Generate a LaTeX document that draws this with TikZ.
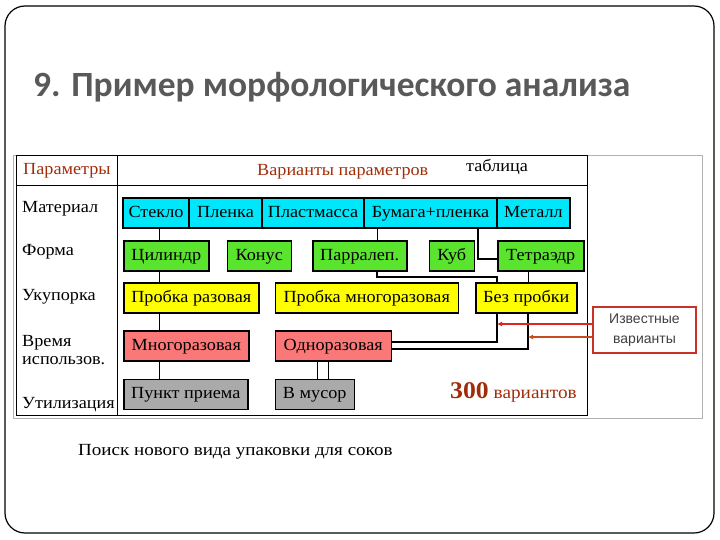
\documentclass[tikz,border=0pt]{standalone}
\usepackage{fontspec}
\setmainfont{Liberation Serif}[FakeStretch=1.07]
\newfontfamily\titlefont{Carlito}
\newfontfamily\notefont{Liberation Sans}
\newfontfamily\captionfont{Liberation Serif}[FakeStretch=1.12]
\usetikzlibrary{arrows.meta,positioning}
\definecolor{matcyan}{RGB}{0,230,250}
\definecolor{formgreen}{RGB}{90,228,45}
\definecolor{closyellow}{RGB}{255,255,0}
\definecolor{usesalmon}{RGB}{250,120,120}
\definecolor{utilgray}{RGB}{170,170,170}
\definecolor{headred}{RGB}{160,45,10}
\definecolor{titlegray}{RGB}{89,89,89}
\definecolor{notered}{RGB}{200,50,40}
\definecolor{arrowred}{RGB}{225,35,35}
\definecolor{arrowbrown}{RGB}{200,75,30}
\tikzset{
block/.style={rectangle, draw, line width=1.5pt, minimum height=30pt, inner sep=1pt, text height=12pt, text depth=3.5pt, font=\fontsize{17}{19}\selectfont},
mat/.style={block, fill=matcyan, line width=1.2pt, outer sep=0pt},
form/.style={block, fill=formgreen},
closure/.style={block, fill=closyellow},
usage/.style={block, fill=usesalmon},
util/.style={block, fill=utilgray},
rowname/.style={anchor=base west, inner sep=0pt, font=\fontsize{17}{19}\selectfont},
head/.style={rowname, text=headred},
line/.style={draw, line width=1pt},
known/.style={draw, line width=1.8pt},
hint/.style={draw, line width=1.6pt, -{Latex[length=5pt, width=5pt]}}
}

\begin{document}
\begin{tikzpicture}[x=1pt, y=-1pt]
    \useasboundingbox (0,0) rectangle (720,540);
    % Slide frame and title
    \draw[line width=1.2pt, rounded corners=20pt] (5,6) rectangle (714,533);
    \node[anchor=base west, inner sep=0pt, text=titlegray, font=\titlefont\bfseries\fontsize{35.5}{40}\selectfont] (title) at (33,97) {9. Пример морфологического анализа};
    % Table frame
    \draw[gray!60, line width=0.8pt] (13,155) rectangle (702,418);
    \draw[line width=1pt] (16,156) rectangle (587,415);
    \draw[line width=1pt] (16,186) -- (587,186);
    \draw[line width=1pt] (117,156) -- (117,415);
    % Header and row names
    \node[head] (hparam) at (23,175) {Параметры};
    \node[head] (hvar) at (257,176) {Варианты параметров};
    \node[rowname] (htab) at (466,172) {таблица};
    \node[rowname] (rmat) at (22,213) {Материал};
    \node[rowname] (rform) at (22,255) {Форма};
    \node[rowname] (rclos) at (22,300) {Укупорка};
    \node[rowname] (rtime) at (22,346) {Время};
    \node[rowname] (rtime2) at (22,364) {использов.};
    \node[rowname] (rutil) at (22,408) {Утилизация};
    % Place nodes
    \node[mat, minimum width=66pt, anchor=west] (steklo) at (123,213) {Стекло};
    \node[mat, minimum width=73pt, right=0pt of steklo] (plenka) {Пленка};
    \node[mat, minimum width=102pt, right=0pt of plenka] (plast) {Пластмасса};
    \node[mat, minimum width=133pt, right=0pt of plast] (bumaga) {Бумага+пленка};
    \node[mat, minimum width=73pt, right=0pt of bumaga] (metall) {Металл};
    \node[form, minimum width=85pt, anchor=west] (cilindr) at (123,256) {Цилиндр};
    \node[form, minimum width=64pt, right=17pt of cilindr] (konus) {Конус};
    \node[form, minimum width=94pt, right=20pt of konus] (parall) {Парралеп.};
    \node[form, minimum width=45pt, right=21pt of parall] (kub) {Куб};
    \node[form, minimum width=86pt, right=22pt of kub] (tetra) {Тетраэдр};
    \node[closure, minimum width=135pt, anchor=west] (prob1) at (123,298) {Пробка разовая};
    \node[closure, minimum width=183pt, right=15pt of prob1] (prob2) {Пробка многоразовая};
    \node[closure, minimum width=101pt, right=16pt of prob2] (bez) {Без пробки};
    \node[usage, minimum width=125pt, anchor=west] (mnogo) at (123,346) {Многоразовая};
    \node[usage, minimum width=116pt, right=25pt of mnogo] (odno) {Одноразовая};
    \node[util, minimum width=124pt, anchor=west] (punkt) at (123,394.5) {Пункт приема};
    \node[util, minimum width=79pt, right=26pt of punkt] (musor) {В мусор};
    \node[draw=notered, line width=1.5pt, fill=white, minimum width=103pt, minimum height=46pt, align=center, text=black!75, font=\notefont\fontsize{14}{20}\selectfont] (known) at (644.5,330) {Известные\\варианты};
    \node[anchor=base west, inner sep=0pt, text=headred] (total) at (450,398) {{\fontsize{24}{26}\selectfont\bfseries 300}\hspace{5pt}{\fontsize{18}{20}\selectfont вариантов}};
    \node[anchor=base west, inner sep=0pt, font=\captionfont\fontsize{17}{20}\selectfont] (caption) at (78,455) {Поиск нового вида упаковки для соков};
    % Draw edges
    \coordinate (colA) at (159,0);
    \coordinate (colB) at (317,0);
    \coordinate (colB2) at (328,0);
    \coordinate (colC) at (377,0);
    \coordinate (colD) at (478,0);
    \coordinate (colE) at (497,0);
    \coordinate (colF) at (528,0);
    \coordinate (turnP) at (497,277);
    \coordinate (hitE) at (497,324);
    \coordinate (hitF) at (528,337);
    \path [line] (steklo.south -| colA) -- (cilindr.north -| colA);
    \path [line] (cilindr.south -| colA) -- (prob1.north -| colA);
    \path [line] (prob1.south -| colA) -- (mnogo.north -| colA);
    \path [line] (mnogo.south -| colA) -- (punkt.north -| colA);
    \path [line] (odno.south -| colB) -- (musor.north -| colB);
    \path [line] (odno.south -| colB2) -- (musor.north -| colB2);
    \path [line] (bumaga.south -| colC) -- (parall.north -| colC);
    \path [known] (parall.south -| colC) |- (turnP) -- (bez.north -| colE);
    \path [known] (bumaga.south -| colD) |- ([yshift=-3pt]tetra.west);
    \path [line] (tetra.south -| colF) -- (bez.north -| colF);
    \path [known] (bez.south -| colE) |- ([yshift=4pt]odno.east);
    \path [known] (bez.south -| colF) |- ([yshift=-3pt]odno.east);
    \path [hint, draw=arrowred] ([yshift=6pt]known.west) -- (hitE);
    \path [hint, draw=arrowbrown] ([yshift=-7pt]known.west) -- (hitF);
\end{tikzpicture}
\end{document}
